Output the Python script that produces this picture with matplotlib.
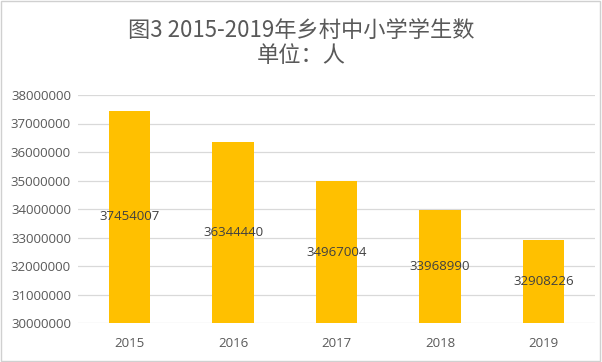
import matplotlib
matplotlib.use("Agg")
import matplotlib.pyplot as plt
from matplotlib.patches import Rectangle

years = ["2015", "2016", "2017", "2018", "2019"]
students = [37454007, 36344440, 34967004, 33968990, 32908226]
y_ticks = [30000000, 31000000, 32000000, 33000000, 34000000,
           35000000, 36000000, 37000000, 38000000]
title = "图3 2015-2019年乡村中小学学生数\n单位：人"

plt.rcParams['font.family'] = ['Noto Sans CJK SC', 'DejaVu Sans']

fig = plt.figure(figsize=(6.02, 3.62), dpi=100)
ax = fig.add_axes([78 / 602, 1 - 323 / 362, 517 / 602, 228 / 362])

base = y_ticks[0]
x = list(range(len(years)))
heights = [v - base for v in students]
ax.bar(x, heights, bottom=base, width=0.4, color="#FFC000", zorder=3)

for xi, v in zip(x, students):
    ax.text(xi, (base + v) / 2, str(v), ha="center", va="center",
            fontsize=9.5, color="#404040", family=["Open Sans", "DejaVu Sans"], zorder=4)

ax.set_xlim(-0.5, len(years) - 0.5)
ax.set_ylim(y_ticks[0], y_ticks[-1])
ax.set_yticks(y_ticks)
ax.set_yticklabels([str(t) for t in y_ticks])
ax.set_xticks(x)
ax.set_xticklabels(years)
ax.grid(axis="y", color="#D9D9D9", linewidth=0.9, zorder=0)
ax.set_axisbelow(True)
for s in ax.spines.values():
    s.set_visible(False)
ax.tick_params(length=0, labelsize=9.5, colors="#595959", pad=5)
for lab in ax.get_yticklabels() + ax.get_xticklabels():
    lab.set_family(["Open Sans", "DejaVu Sans"])
ax.tick_params(axis="x", pad=10)

fig.text(0.5, 1 - 43 / 362, title, ha="center", va="center",
         fontsize=16, color="#595959", linespacing=1.15)

fig.patches.append(Rectangle((0.002, 0.003), 0.995, 0.994, transform=fig.transFigure,
                             fill=False, edgecolor="#D0D0D0", linewidth=1))

fig.savefig("out.png", dpi=100)
